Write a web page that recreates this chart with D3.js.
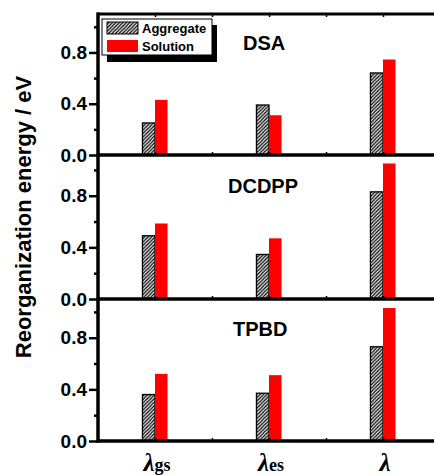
<!DOCTYPE html>
<html>
<head>
<meta charset="utf-8">
<script src="https://cdn.jsdelivr.net/npm/d3@7"></script>
<style>
body { margin: 0; background: #fff; }
svg { display: block; }
text { font-family: "Liberation Sans", Arial, sans-serif; font-weight: bold; }
</style>
</head>
<body>
<div id="chart"></div>
<script>
// data
var categories = ["gs", "es", ""];
var panelNames = ["DSA", "DCDPP", "TPBD"];
var aggregate = [
    [0.25, 0.39, 0.64],
    [0.49, 0.345, 0.83],
    [0.36, 0.37, 0.73]
];
var solution = [
    [0.43, 0.31, 0.745],
    [0.585, 0.47, 1.05],
    [0.52, 0.51, 1.03]
];
var yTicks = [0, 0.4, 0.8];
var yMinor = [0.2, 0.6, 1.0];
var seriesNames = ["Aggregate", "Solution"];

var width = 434, height = 475;
var panelTop = [14, 157, 299], panelBottom = [155, 299, 441];
var left = 98, right = 440;
var barW = 0.11;

var svg = d3.select("#chart").append("svg").attr("width", width).attr("height", height);

var defs = svg.append("defs");
var pat = defs.append("pattern").attr("id", "hatch")
    .attr("patternUnits", "userSpaceOnUse").attr("width", 3.5).attr("height", 3.5);
pat.append("rect").attr("width", 3.5).attr("height", 3.5).attr("fill", "#fff");
pat.append("path").attr("d", "M-1,1 l2,-2 M0,3.5 l3.5,-3.5 M2.5,4.5 l2,-2")
    .attr("stroke", "#000").attr("stroke-width", 1.3);

var x = d3.scaleLinear().domain([0.5, 3.5]).range([left, right]);

panelNames.forEach(function(name, p){
    var y = d3.scaleLinear().domain([0, 1.1]).range([panelBottom[p], panelTop[p]]);
    var g = svg.append("g").attr("class", "panel");

    // bars
    g.selectAll("rect.agg").data(aggregate[p]).enter().append("rect")
        .attr("class", "agg")
        .attr("x", function(d, i){ return x(i + 1 - barW); })
        .attr("width", x(1) - x(1 - barW))
        .attr("y", function(d){ return y(d); })
        .attr("height", function(d){ return y(0) - y(d); })
        .attr("fill", "url(#hatch)").attr("stroke", "#000").attr("stroke-width", 1.3);
    g.selectAll("rect.sol").data(solution[p]).enter().append("rect")
        .attr("class", "sol")
        .attr("x", function(d, i){ return x(i + 1); })
        .attr("width", x(1 + barW) - x(1))
        .attr("y", function(d){ return y(d); })
        .attr("height", function(d){ return y(0) - y(d); })
        .attr("fill", "#ff0000");

    // y axis
    var ya = g.append("g").attr("transform", "translate(" + left + ",0)")
        .call(d3.axisLeft(y).tickValues(yTicks).tickSize(9).tickPadding(2).tickFormat(d3.format(".1f")));
    ya.select(".domain").remove();
    ya.selectAll("line").attr("stroke-width", 2.5);
    ya.selectAll("text").style("font-size", "19px").attr("fill", "#000");
    var ym = g.append("g").attr("transform", "translate(" + left + ",0)")
        .call(d3.axisLeft(y).tickValues(yMinor).tickSize(4).tickFormat(""));
    ym.select(".domain").remove();
    ym.selectAll("line").attr("stroke-width", 2.5);

    // bottom axis with small inward ticks
    var xa = g.append("g").attr("transform", "translate(0," + panelBottom[p] + ")")
        .call(d3.axisBottom(x).tickValues([1, 1.5, 2, 2.5, 3]).tickSizeInner(-3).tickSizeOuter(0).tickFormat(""));
    xa.select(".domain").remove();
    xa.selectAll("line").attr("stroke-width", 1.5);

    g.append("line").attr("x1", left - 1).attr("x2", width)
        .attr("y1", panelBottom[p]).attr("y2", panelBottom[p])
        .attr("stroke", "#000").attr("stroke-width", 3.5);

    g.append("text").attr("x", p == 0 ? 243 : (p == 1 ? 228 : 233))
        .attr("y", [50, 193, 336][p])
        .style("font-size", "20px").text(name);
});

// top frame and left axis line
var xt = svg.append("g").attr("transform", "translate(0," + panelTop[0] + ")")
    .call(d3.axisTop(x).tickValues([1, 1.5, 2, 2.5, 3]).tickSizeInner(-3).tickSizeOuter(0).tickFormat(""));
xt.select(".domain").remove();
xt.selectAll("line").attr("stroke-width", 1.5);
svg.append("line").attr("x1", left - 1).attr("x2", width)
    .attr("y1", panelTop[0]).attr("y2", panelTop[0])
    .attr("stroke", "#000").attr("stroke-width", 3);
svg.append("line").attr("x1", left).attr("x2", left)
    .attr("y1", panelTop[0] - 1.5).attr("y2", panelBottom[2] + 1.5)
    .attr("stroke", "#000").attr("stroke-width", 3.5);

// x labels (lambda + subscript)
var xl = svg.append("g").selectAll("text").data(categories).enter().append("text")
    .attr("x", function(d, i){ return x(i + 1) + 2; })
    .attr("y", 471)
    .attr("text-anchor", "middle");
xl.append("tspan").text("λ")
    .style("font-family", "'Liberation Serif', 'Times New Roman', serif")
    .style("font-style", "italic").style("font-weight", "bold").style("font-size", "25px");
xl.append("tspan").text(function(d){ return d; })
    .style("font-family", "'Liberation Serif', 'Times New Roman', serif")
    .style("font-weight", "bold").style("font-size", "18px");

// y label
svg.append("text")
    .attr("transform", "translate(31,217) rotate(-90)")
    .attr("text-anchor", "middle")
    .style("font-size", "22px")
    .text("Reorganization energy / eV");

// legend
var lg = svg.append("g").attr("transform", "translate(102,19)");
lg.append("rect").attr("x", 5).attr("y", 6).attr("width", 110).attr("height", 37).attr("fill", "#000");
lg.append("rect").attr("x", 0).attr("y", 0).attr("width", 110).attr("height", 36)
    .attr("fill", "#fff").attr("stroke", "#000").attr("stroke-width", 1);
var items = lg.selectAll("g.item").data(seriesNames).enter().append("g")
    .attr("class", "item")
    .attr("transform", function(d, i){ return "translate(0," + (i * 18) + ")"; });
items.append("rect").attr("x", 5).attr("y", 3).attr("width", 31).attr("height", 12)
    .attr("fill", function(d, i){ return i == 0 ? "url(#hatch)" : "#ff0000"; })
    .attr("stroke", function(d, i){ return i == 0 ? "#000" : "none"; })
    .attr("stroke-width", 1);
items.append("text").attr("x", 40).attr("y", 14)
    .style("font-size", "13px").text(function(d){ return d; });
</script>
</body>
</html>
